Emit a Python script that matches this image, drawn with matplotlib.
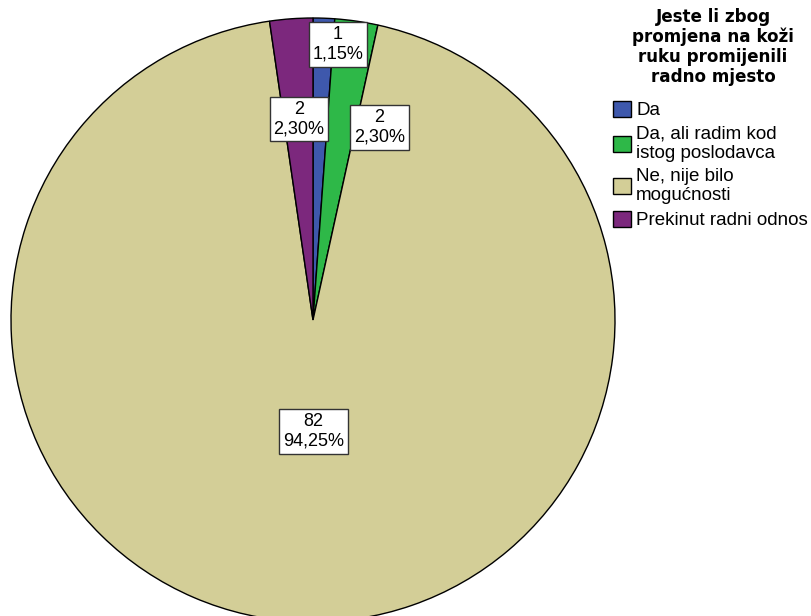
import matplotlib.pyplot as plt
from matplotlib.patches import Patch

plt.rcParams.update({
    "font.family": ["Liberation Sans", "DejaVu Sans"],
    "figure.facecolor": "white",
})

# data
categories = ["Da", "Da, ali radim kod\nistog poslodavca",
              "Ne, nije bilo\nmogućnosti", "Prekinut radni odnos"]
counts = [1, 2, 82, 2]
percent_labels = ["1,15%", "2,30%", "94,25%", "2,30%"]
colors = ["#3E58AC", "#2EB848", "#D3CE97", "#7C287D"]
legend_title = "Jeste li zbog\npromjena na koži\nruku promijenili\nradno mjesto"

# label box positions (figure pixels, from top-left), per slice
label_pos = [(338, 44.5), (379.5, 127.5), (313.5, 431.5), (299, 119)]

W, H = 812, 616
fig = plt.figure(figsize=(W / 100, H / 100), dpi=100)
ax = fig.add_axes([0, 0, 1, 1])

wedges, _ = ax.pie(counts, colors=colors, startangle=90, counterclock=False,
                   center=(313, H - 320), radius=302,
                   wedgeprops=dict(edgecolor="black", linewidth=1))
ax.set_xlim(0, W)
ax.set_ylim(0, H)
ax.set_aspect("equal")
ax.axis("off")

for n, pct, (px, py) in zip(counts, percent_labels, label_pos):
    ax.text(px, H - py, f"{n}\n{pct}", ha="center", va="center",
            fontsize=13, linespacing=1.2,
            bbox=dict(boxstyle="square,pad=0.22", facecolor="white",
                      edgecolor="#333333", linewidth=1))

# legend title drawn on its own, legend entries below it
fig.text(713 / W, 1 - 8 / H, legend_title, ha="center", va="top",
         family="DejaVu Sans", weight="bold", fontsize=12.1,
         linespacing=1.13)

handles = [Patch(facecolor=c, edgecolor="black", linewidth=1) for c in colors]
leg = fig.legend(handles, categories, loc="upper left",
                 bbox_to_anchor=(609 / W, 1 - 97 / H), frameon=False,
                 fontsize=13.5, handlelength=0.95, handleheight=0.95,
                 handletextpad=0.3, labelspacing=0.35, borderpad=0.2,
                 borderaxespad=0)
for t in leg.get_texts():
    t.set_linespacing(1.15)

fig.savefig("out.png", dpi=100)
